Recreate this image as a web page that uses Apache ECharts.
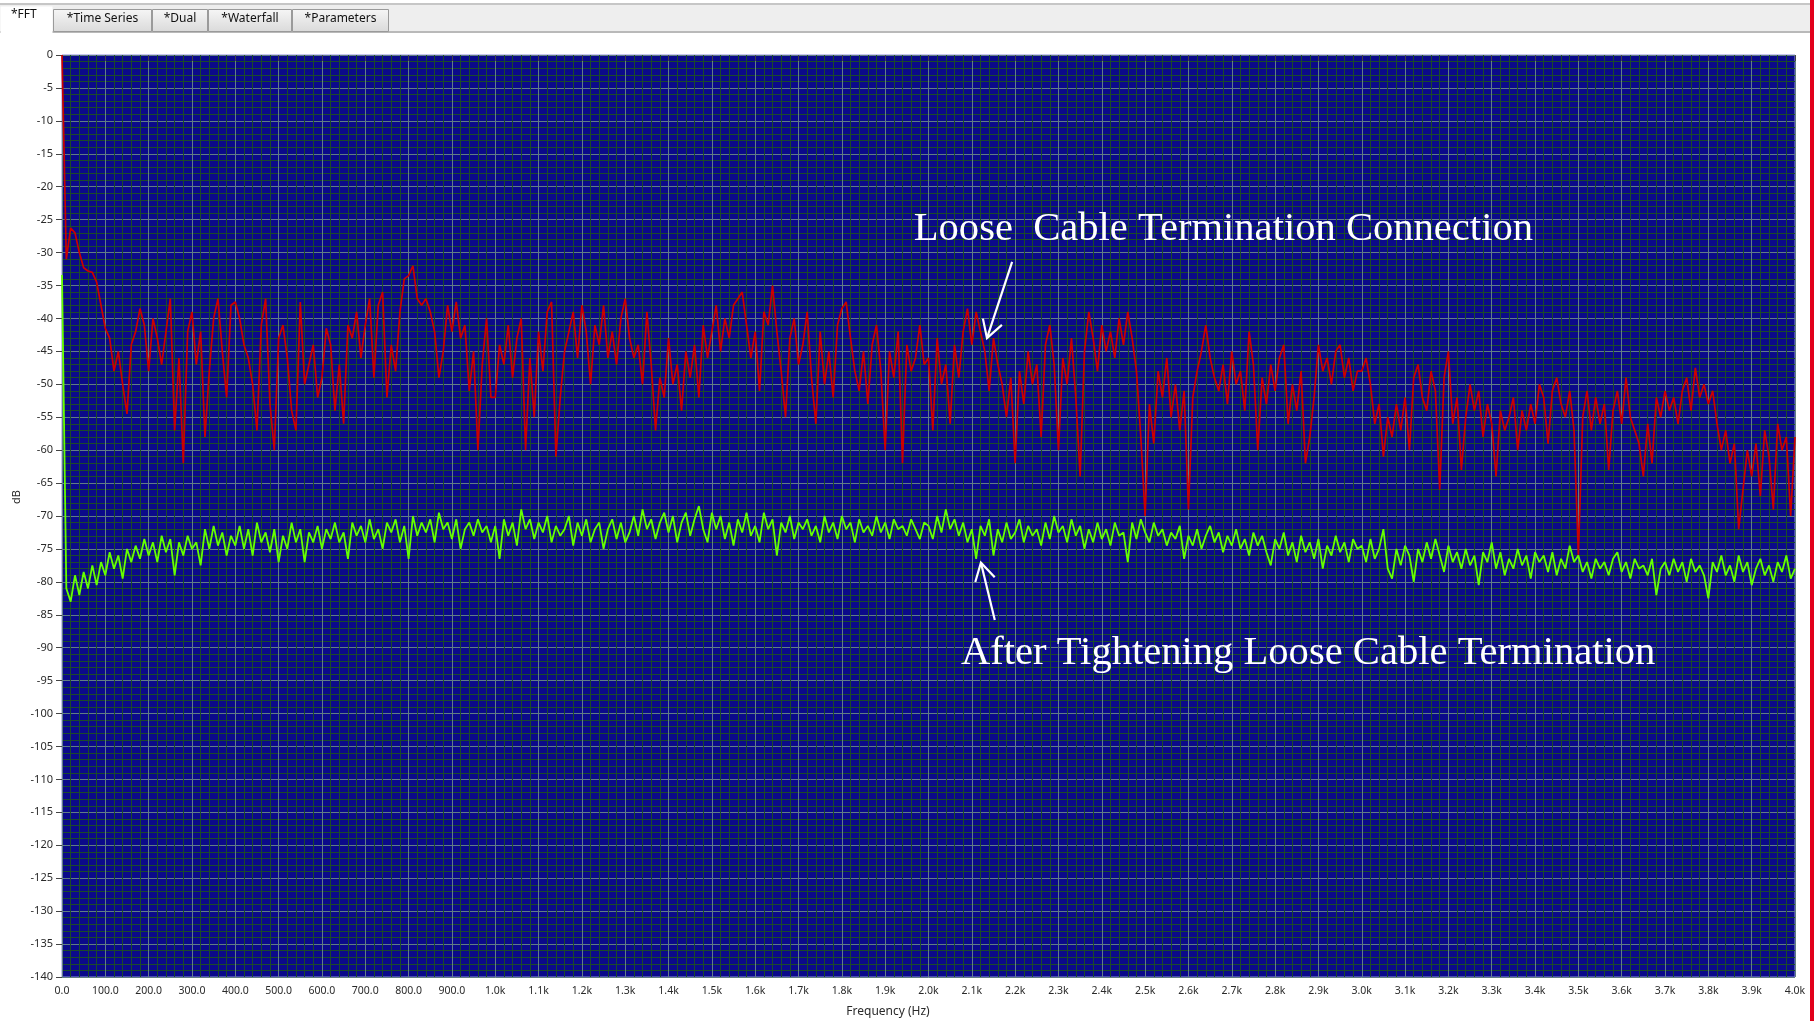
<!DOCTYPE html>
<html>
<head>
<meta charset="utf-8">
<script src="https://cdn.jsdelivr.net/npm/echarts@6/dist/echarts.min.js"></script>
<style>
	html, body { margin: 0; padding: 0; background: #ffffff; overflow: hidden; }
	#chart { width: 1814px; height: 1021px; }
</style>
</head>
<body>
<div id="chart"></div>
<script>
// FFT bins, 10 Hz apart, 0 .. 4000 Hz
const binHz = 10;

// loose cable termination (red), dB
const looseDb = [
	0, -31, -26.3, -27, -30, -32.3, -32.8, -33, -34.5, -38,
	-41.5, -43, -48, -45, -50, -54.5, -44, -42, -38.5, -41,
	-48, -40, -43, -47, -42, -37, -57, -46, -62, -42,
	-39, -47, -42, -58, -48, -40, -37, -45, -52, -38,
	-37.5, -40, -44, -46, -50, -57, -41, -37, -53, -60,
	-43, -41, -46, -54, -57, -37.5, -50, -47, -44, -52,
	-49, -41.5, -44, -54, -47, -56, -41, -43, -39, -46,
	-41, -37, -49, -38, -36, -52, -44, -48, -39, -34,
	-33.5, -32, -37, -38, -37, -39, -42, -49, -45, -38,
	-42, -37.5, -43, -41, -51, -45, -60, -47, -40, -52,
	-52, -44, -47, -41, -49, -43, -40, -60, -46, -55,
	-42, -48, -39, -37.5, -61, -52, -45, -42, -39, -46,
	-38, -42, -50, -41, -44, -38, -46, -42, -47, -40,
	-37, -43, -46, -44, -50, -39, -47, -57, -49, -52,
	-43, -50, -47, -54, -45, -49, -44, -52, -41, -46,
	-42, -38, -45, -40, -43, -38, -37, -36, -41, -46,
	-42, -51, -39, -41, -35, -42, -48, -55, -43, -40,
	-47, -44, -39, -49, -56, -42, -50, -45, -52, -41,
	-38.5, -37.5, -43, -48, -51, -45, -53, -44, -41, -48,
	-60, -45, -49, -42, -62, -44, -48, -46, -41, -47,
	-46, -57, -43, -50, -47, -56, -44, -49, -42, -38.5,
	-44, -39, -42, -45, -51, -43, -47, -50, -55, -49,
	-62, -48, -53, -45, -50, -47, -58, -44, -41, -47,
	-60, -46, -50, -43, -52, -64, -45, -39, -43, -48,
	-41, -45, -42, -46, -40, -44, -39, -43, -48, -58,
	-70, -53, -59, -48, -52, -46, -55, -50, -57, -51,
	-69, -52, -48, -45, -41, -46, -49, -51, -47, -53,
	-45, -50, -48, -54, -42, -47, -60, -49, -53, -47,
	-51, -46, -44, -56, -50, -54, -48, -62, -58, -52,
	-44, -48, -46, -50, -45, -44, -49, -46, -51, -48,
	-48, -46, -50, -56, -53, -61, -55, -58, -53, -57,
	-52, -60, -49, -47, -52, -54, -48, -51, -66, -49,
	-45, -56, -52, -63, -55, -50, -54, -51, -58, -53,
	-56, -64, -54, -57, -55, -52, -60, -54, -57, -53,
	-56, -50, -52, -59, -51, -49, -53, -55, -51, -57,
	-76, -55, -51, -57, -52, -56, -53, -63, -54, -51,
	-56, -49, -55, -57, -59, -64, -56, -62, -52, -55,
	-51, -54, -52, -56, -51, -49, -54, -47.5, -52, -50,
	-53, -51, -56, -60, -57, -62, -59, -72, -66, -60,
	-64, -59, -67, -57, -61, -69, -56, -60, -58, -70,
	-58
];

// after tightening (green), dB
const tightDb = [
	-33.4, -81, -83, -79, -82, -78.5, -81, -77.5, -80.5, -77,
	-79, -75.5, -78, -76, -79.5, -75, -77, -74.5, -76.5, -73.5,
	-76, -74, -77, -73, -75.5, -73.5, -79, -74, -76, -73,
	-75, -74, -77.5, -72, -75, -71.5, -74.5, -72.5, -76, -73,
	-74.5, -71.5, -75, -72, -76, -71, -74, -72.5, -75.5, -72,
	-77, -73, -75, -71, -74, -72, -77, -72.5, -74, -71.5,
	-75, -72, -73.5, -71, -74, -72.5, -76.5, -71, -73, -71.5,
	-74, -70.5, -73.5, -72, -75, -71, -72.5, -70.5, -74, -71.5,
	-76.5, -70, -73, -71, -72.5, -70.5, -74, -69.5, -72, -71,
	-73.5, -70.5, -75, -72, -71, -73, -70.5, -72.5, -71.5, -74,
	-71.5, -76.5, -70.5, -73, -71, -74.5, -69, -72, -70.5, -73.5,
	-71, -72.5, -70, -74, -71.5, -73, -72, -70, -74.5, -71,
	-73, -70.5, -74, -72, -71, -75, -72, -70.5, -73.5, -71,
	-74, -72.5, -70, -73, -69, -72, -70.5, -73.5, -71, -69.5,
	-72.5, -70, -74, -71, -69.5, -73, -70.5, -68.5, -72, -74,
	-69.5, -72, -70, -73.5, -71, -74.5, -70.5, -72.5, -69.5, -73,
	-71.5, -74, -69.5, -72, -70.5, -76, -71, -72.5, -70, -73.5,
	-71, -72, -70.5, -73, -71.5, -74, -70, -72.5, -71, -73.5,
	-70, -72, -71, -74, -70.5, -72.5, -71.5, -73, -70, -72.5,
	-71, -73.5, -70.5, -72, -71.5, -73, -70.5, -72, -73.5, -71,
	-71.5, -73.5, -70, -72.5, -69, -72, -70.5, -73, -71, -74,
	-72, -76.5, -71.5, -73, -70.5, -76, -72, -74, -71, -73.5,
	-72.5, -70.5, -74, -71.5, -73, -72, -74.5, -71, -73.5, -70,
	-72.5, -71.5, -74, -70.5, -73, -71.5, -75, -72, -74, -71,
	-73.5, -72, -74.5, -71, -73, -72.5, -77, -71, -73.5, -70.5,
	-72.5, -74, -71, -73, -72, -74.5, -72.5, -73.5, -71.5, -76.5,
	-73, -74.5, -72, -75, -73, -71.5, -74, -72.5, -75.5, -73,
	-74.5, -72, -75, -73.5, -76, -72.5, -74.5, -73, -75.5, -77.5,
	-73.5, -75, -72.5, -76, -74, -77, -73, -75.5, -74, -76.5,
	-73.5, -78, -74.5, -76, -73, -75.5, -74, -77, -73.5, -75,
	-74.5, -77, -73.5, -76.5, -75, -72, -78, -79.5, -75, -77.5,
	-74.5, -76, -80, -75, -77, -74, -76.5, -73.5, -76, -78.5,
	-74.5, -77, -75.5, -78, -75, -77.5, -76, -80.5, -75.5, -77,
	-74, -78, -75.5, -79, -76.5, -78, -75, -77.5, -76, -79.5,
	-75.5, -77, -76, -78.5, -75.5, -79, -76.5, -78, -74.5, -77,
	-76, -78.5, -77, -79.5, -76.5, -78, -77, -79, -76.5, -75.5,
	-78.5, -77, -79.5, -76.5, -78, -77.5, -79, -76.5, -82, -78,
	-77, -79, -76.5, -78.5, -77, -80, -76.5, -78.5, -77.5, -79,
	-82.5, -77, -78.5, -76, -79, -77.5, -80, -76, -78.5, -77,
	-80.5, -78, -76.5, -79, -77.5, -80, -77, -78.5, -76, -79.5,
	-78
];

const freqLabels = [
	'0.0', '100.0', '200.0', '300.0', '400.0', '500.0', '600.0', '700.0', '800.0', '900.0',
	'1.0k', '1.1k', '1.2k', '1.3k', '1.4k', '1.5k', '1.6k', '1.7k', '1.8k', '1.9k',
	'2.0k', '2.1k', '2.2k', '2.3k', '2.4k', '2.5k', '2.6k', '2.7k', '2.8k', '2.9k',
	'3.0k', '3.1k', '3.2k', '3.3k', '3.4k', '3.5k', '3.6k', '3.7k', '3.8k', '3.9k', '4.0k'
];

const tabNames = ['*FFT', '*Time Series', '*Dual', '*Waterfall', '*Parameters'];

// annotation texts and arrows, in [Hz, dB]
const notes = [
	{ text: 'Loose  Cable Termination Connection', at: [1966, -26.4], tail: [2193, -31.4], tip: [2135, -43.0] },
	{ text: 'After Tightening Loose Cable Termination', at: [2075, -90.8], tail: [2153, -85.8], tip: [2121, -77.1] }
];

const chart = echarts.init(document.getElementById('chart'));

const colors = {
	plot: '#0b0a8a',
	border: '#8f8ce0',
	major: '#627e84',
	minor: '#1b4a2b',
	loose: '#cc0000',
	tight: '#66ff00',
	label: '#2a2a2a'
};

const uiFont = 'Noto Sans';

function axisCommon() {
	return {
		axisLine: { show: false },
		axisTick: { show: true, length: 6, lineStyle: { color: '#444444' } },
		splitLine: { show: true, lineStyle: { color: colors.major, width: 1 } },
		minorTick: { show: false, splitNumber: 5 },
		minorSplitLine: { show: true, lineStyle: { color: colors.minor, width: 1 } }
	};
}

// tab strip at the top of the window
const tabBoxes = [[0, 53], [53, 152], [152, 208], [208, 292], [292, 389]];
const tabGraphics = [
	{ type: 'rect', shape: { x: 0, y: 3, width: 1814, height: 2 }, style: { fill: '#c6c6c6' }, silent: true },
	{ type: 'rect', shape: { x: 0, y: 5, width: 1814, height: 26 }, style: { fill: '#eeeeee' }, silent: true },
	{ type: 'rect', shape: { x: 0, y: 31, width: 1814, height: 2 }, style: { fill: '#b9b9b9' }, silent: true }
];
tabNames.forEach((name, i) => {
	const [x0, x1] = tabBoxes[i];
	const active = i === 0;
	tabGraphics.push({
		type: 'rect',
		silent: true,
		shape: { x: x0 + 0.5, y: active ? 6.5 : 9.5, width: x1 - x0 - 1, height: active ? 27 : 22 },
		style: {
			fill: active ? '#ffffff' : new echarts.graphic.LinearGradient(0, 0, 0, 1, [
				{ offset: 0, color: '#f6f6f6' },
				{ offset: 1, color: '#dadada' }
			]),
			stroke: active ? null : '#9a9a9a',
			lineWidth: 1
		}
	});
	tabGraphics.push({
		type: 'text',
		silent: true,
		style: {
			x: active ? 11 : (x0 + x1) / 2,
			y: active ? 15 : 19,
			text: name,
			align: active ? 'left' : 'center',
			verticalAlign: 'middle',
			font: '12px "' + uiFont + '"',
			fill: '#111111'
		}
	});
});

const option = {
	animation: false,
	backgroundColor: '#ffffff',
	grid: {
		left: 62,
		top: 55,
		width: 1733,
		height: 922,
		show: true,
		backgroundColor: colors.plot,
		borderColor: colors.border,
		borderWidth: 1
	},
	xAxis: Object.assign(axisCommon(), {
		type: 'value',
		min: 0,
		max: 4000,
		interval: 100,
		axisLabel: {
			margin: 9,
			color: colors.label,
			fontSize: 10.5,
			fontFamily: uiFont,
			formatter: v => freqLabels[Math.round(v / 100)]
		}
	}),
	yAxis: Object.assign(axisCommon(), {
		type: 'value',
		min: -140,
		max: 0,
		interval: 5,
		axisLabel: {
			margin: 9,
			color: colors.label,
			fontSize: 11,
			fontFamily: uiFont,
			formatter: v => String(v)
		}
	}),
	series: [
		{
			name: 'Loose',
			type: 'line',
			symbol: 'none',
			silent: true,
			lineStyle: { color: colors.loose, width: 1.7 },
			data: looseDb.map((v, i) => [i * binHz, v]),
			z: 3
		},
		{
			name: 'Tight',
			type: 'line',
			symbol: 'none',
			silent: true,
			lineStyle: { color: colors.tight, width: 1.8 },
			data: tightDb.map((v, i) => [i * binHz, v]),
			z: 4
		}
	],
	graphic: tabGraphics.concat([
		{ type: 'rect', silent: true, shape: { x: 1810, y: 0, width: 4, height: 1021 }, style: { fill: '#e2001a' } },
		{
			type: 'text', silent: true, x: 17, y: 497, rotation: Math.PI / 2,
			style: { text: 'dB', align: 'center', verticalAlign: 'middle', font: '11px "' + uiFont + '"', fill: colors.label }
		},
		{
			type: 'text', silent: true,
			style: { x: 888, y: 1012, text: 'Frequency (Hz)', align: 'center', verticalAlign: 'middle', font: '12px "' + uiFont + '"', fill: colors.label }
		}
	])
};

chart.setOption(option);

// annotations placed through the chart's own scales
const noteGraphics = [];
notes.forEach((n, k) => {
	const p = chart.convertToPixel({ gridIndex: 0 }, n.at);
	const a = chart.convertToPixel({ gridIndex: 0 }, n.tail);
	const b = chart.convertToPixel({ gridIndex: 0 }, n.tip);
	const back = Math.atan2(a[1] - b[1], a[0] - b[0]);
	const wing = 20;
	const spread = 30 * Math.PI / 180;
	noteGraphics.push({
		type: 'text', id: 'note' + k, silent: true,
		style: {
			x: p[0], y: p[1], text: n.text, align: 'left', verticalAlign: 'middle',
			font: '40.6px "Liberation Serif"', fill: '#ffffff'
		},
		z: 100
	});
	noteGraphics.push({
		type: 'line', id: 'shaft' + k, silent: true,
		shape: { x1: a[0], y1: a[1], x2: b[0], y2: b[1] },
		style: { stroke: '#ffffff', lineWidth: 2.2 },
		z: 100
	});
	noteGraphics.push({
		type: 'polyline', id: 'head' + k, silent: true,
		shape: {
			points: [
				[b[0] + wing * Math.cos(back - spread), b[1] + wing * Math.sin(back - spread)],
				[b[0], b[1]],
				[b[0] + wing * Math.cos(back + spread), b[1] + wing * Math.sin(back + spread)]
			]
		},
		style: { stroke: '#ffffff', lineWidth: 2.2, fill: null },
		z: 100
	});
});

chart.setOption({ graphic: option.graphic.concat(noteGraphics) });
</script>
</body>
</html>
